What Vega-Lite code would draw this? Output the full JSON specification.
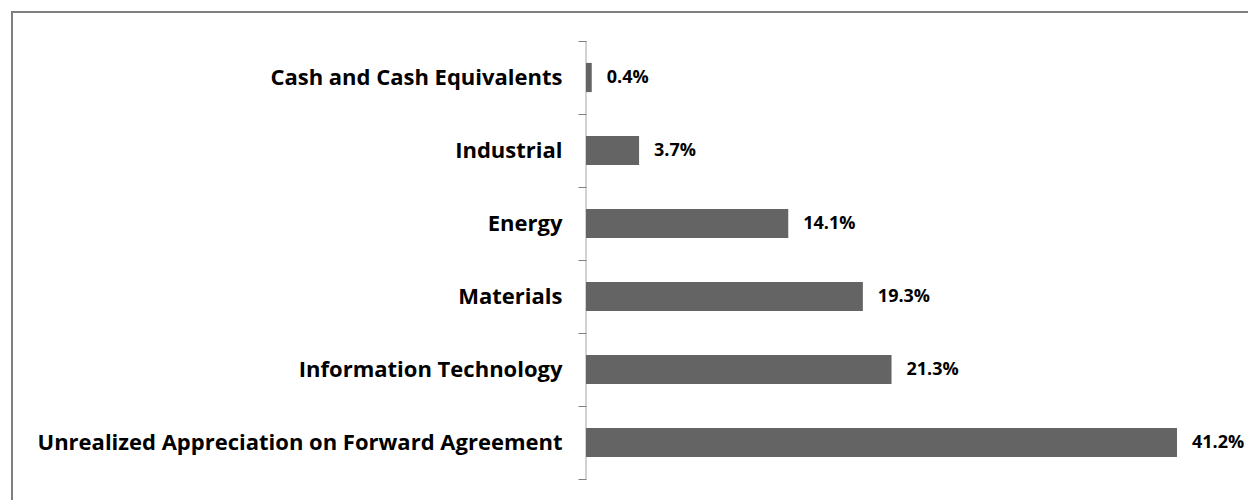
{
  "$schema": "https://vega.github.io/schema/vega-lite/v6.json",
  "autosize": "none",
  "width": 1250,
  "height": 500,
  "padding": {"left": 12, "top": 12, "right": 0, "bottom": 0},
  "background": "white",
  "config": {
    "view": {"stroke": "#7f7f7f", "strokeWidth": 2},
    "font": "Open Sans"
  },
  "data": {
    "values": [
      {"sector": "Cash and Cash Equivalents", "pct": 0.004},
      {"sector": "Industrial", "pct": 0.037},
      {"sector": "Energy", "pct": 0.141},
      {"sector": "Materials", "pct": 0.193},
      {"sector": "Information Technology", "pct": 0.213},
      {"sector": "Unrealized Appreciation on Forward Agreement", "pct": 0.412}
    ]
  },
  "encoding": {
    "y": {
      "field": "sector",
      "type": "nominal",
      "sort": null,
      "scale": {"range": [29, 467], "paddingInner": 0, "paddingOuter": 0},
      "axis": {
        "title": null,
        "offset": -574,
        "domain": false,
        "tickBand": "extent",
        "tickSize": 8,
        "tickColor": "#808080",
        "tickWidth": 1,
        "labelPadding": 16,
        "labelFont": "Open Sans",
        "labelFontWeight": "bold",
        "labelFontSize": 22,
        "labelColor": "#000000",
        "labelLimit": 700
      }
    }
  },
  "layer": [
    {
      "mark": {"type": "tick", "orient": "vertical", "size": 73, "thickness": 1, "color": "#808080"},
      "encoding": {
        "x": {"datum": 0, "type": "quantitative", "scale": {"domain": [0, 0.45], "range": [574, 1219.5], "nice": false, "zero": true}, "axis": null}
      }
    },
    {
      "mark": {"type": "bar", "color": "#646464", "height": {"band": 0.4}},
      "encoding": {
        "x": {"field": "pct", "type": "quantitative", "axis": null}
      }
    },
    {
      "mark": {"type": "text", "align": "left", "baseline": "middle", "dx": 15, "fontWeight": "bold", "fontSize": 18, "font": "Open Sans", "color": "#000000"},
      "encoding": {
        "x": {"field": "pct", "type": "quantitative", "axis": null},
        "text": {"field": "pct", "type": "quantitative", "format": ".1%"}
      }
    }
  ]
}
